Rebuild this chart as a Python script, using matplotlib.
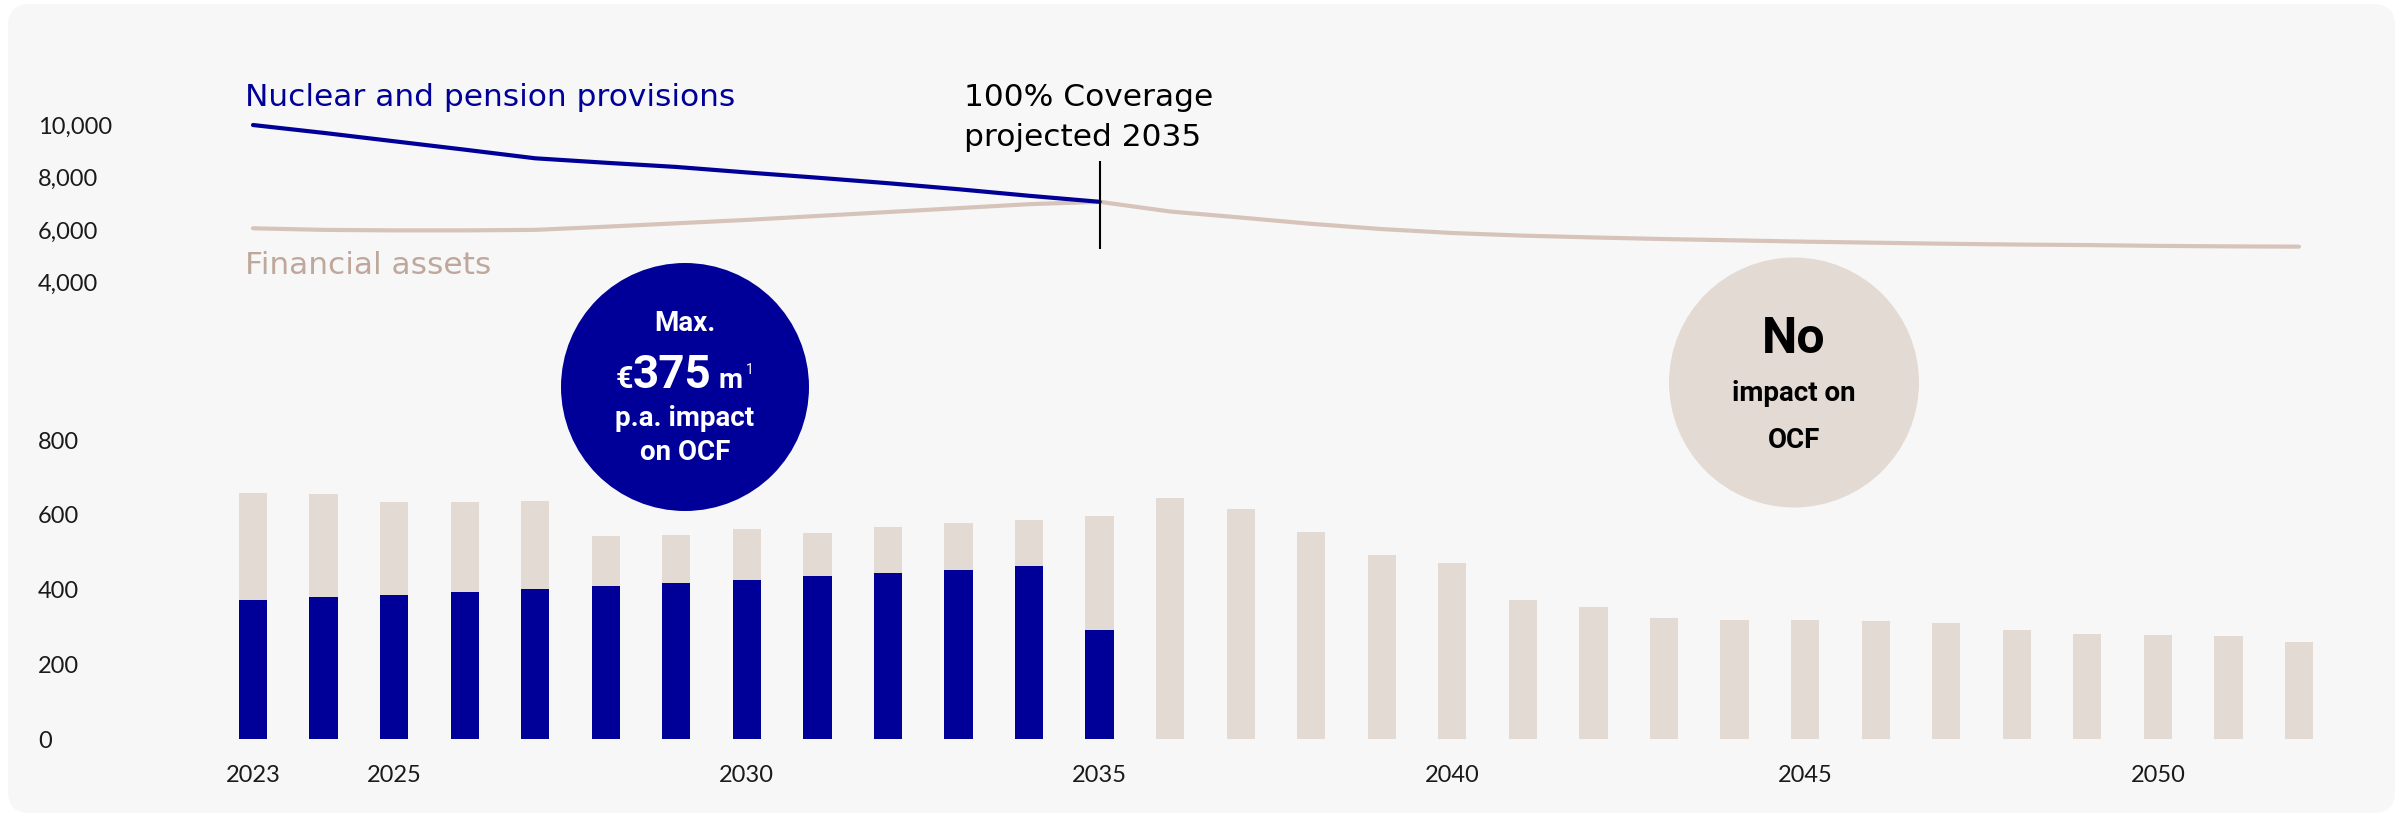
import matplotlib.pyplot as plt
from matplotlib.patches import FancyBboxPatch, Ellipse

W, H = 2405, 817

years = list(range(2023, 2053))
xtick_years = [2023, 2025, 2030, 2035, 2040, 2045, 2050]

# bars: total outflows (beige) and the part hitting OCF (blue), EUR m
total_outflows = [658, 656, 635, 636, 637, 543, 546, 562, 553, 568, 578, 586, 598,
                  646, 617, 555, 494, 471, 371, 353, 324, 320, 319, 317, 311, 291,
                  282, 279, 277, 261]
ocf_impact = [372, 379, 386, 394, 402, 410, 418, 427, 436, 445, 453, 462, 293]
bar_yticks = [0, 200, 400, 600, 800]

# lines, EUR m
provisions = [10000, 9700, 9380, 9060, 8730, 8560, 8400, 8190, 7990, 7780, 7550,
              7300, 7070]
fin_assets = [6060, 6000, 5980, 5980, 6000, 6120, 6250, 6380, 6530, 6680, 6830,
              6980, 7070, 6700, 6470, 6230, 6030, 5880, 5780, 5710, 5650, 5600,
              5550, 5510, 5470, 5440, 5420, 5390, 5370, 5360]
line_yticks = [4000, 6000, 8000, 10000]
coverage_year = 2035
coverage_span = [5260, 8640]

BLUE = '#000099'
BEIGE = '#e3dad4'
BEIGE_LINE = '#d6c4ba'
BEIGE_TEXT = '#bfa89b'
BG = '#f7f7f7'
TICK_FONT = 'Lato'
LABEL_FONT = 'DejaVu Sans'
CIRCLE_FONT = 'Roboto'


def fx(px):
    return px / W


def fy(py):
    return 1 - py / H


fig = plt.figure(figsize=(W / 100, H / 100), dpi=100, facecolor='white')
fig.add_artist(FancyBboxPatch((fx(8), fy(813)), fx(2387), 809 / H,
                              boxstyle='round,pad=0,rounding_size=0.009',
                              transform=fig.transFigure, fc=BG, ec='none',
                              mutation_aspect=W / H, zorder=0))

left, right = 111.9, 2369.5
ax_bar = fig.add_axes([fx(left), fy(739), (right - left) / W, (739 - 421.6) / H])
ax_line = fig.add_axes([fx(left), fy(295.4), (right - left) / W, (295.4 - 111.9) / H])

for ax in (ax_bar, ax_line):
    ax.set_facecolor('none')
    for s in ax.spines.values():
        s.set_visible(False)
    ax.set_xlim(2021, 2053)
    ax.tick_params(length=0, labelsize=17, labelcolor='#1a1a1a')

ax_bar.bar(years, total_outflows, width=0.4, color=BEIGE)
ax_bar.bar(years[:len(ocf_impact)], ocf_impact, width=0.4, color=BLUE)
ax_bar.set_ylim(0, 850)
ax_bar.set_yticks(bar_yticks)
ax_bar.set_yticklabels([f'{v:,}' for v in bar_yticks], family=TICK_FONT)
ax_bar.set_xticks(xtick_years)
ax_bar.set_xticklabels([str(y) for y in xtick_years], family=TICK_FONT)
ax_bar.tick_params(axis='x', pad=19)
ax_bar.tick_params(axis='y', pad=(left - 38) * 0.72)
for lab in ax_bar.get_yticklabels():
    lab.set_ha('left')

ax_line.plot(years, fin_assets, color=BEIGE_LINE, lw=3, solid_capstyle='round')
ax_line.plot(years[:len(provisions)], provisions, color=BLUE, lw=3,
             solid_capstyle='round')
ax_line.vlines(coverage_year, coverage_span[0], coverage_span[1], color='black', lw=1.5)
ax_line.set_ylim(3500, 10500)
ax_line.set_yticks(line_yticks)
ax_line.set_yticklabels([f'{v:,}' for v in line_yticks], family=TICK_FONT)
ax_line.set_xticks([])
ax_line.tick_params(axis='y', pad=(left - 38) * 0.72)
for lab in ax_line.get_yticklabels():
    lab.set_ha('left')

fig.text(fx(245), fy(98), 'Nuclear and pension provisions', color=BLUE,
         family=LABEL_FONT, fontsize=22.5, va='center')
fig.text(fx(245), fy(265), 'Financial assets', color=BEIGE_TEXT,
         family=LABEL_FONT, fontsize=22.5, va='center')
fig.text(fx(964), fy(98), '100% Coverage', color='black',
         family=LABEL_FONT, fontsize=22.5, va='center')
fig.text(fx(964), fy(138), 'projected 2035', color='black',
         family=LABEL_FONT, fontsize=22.5, va='center')

# bubbles
fig.add_artist(Ellipse((fx(685), fy(387)), 248 / W, 248 / H, transform=fig.transFigure,
                       fc=BLUE, ec='none', zorder=5))
fig.add_artist(Ellipse((fx(1794), fy(382.5)), 250 / W, 250 / H, transform=fig.transFigure,
                       fc=BEIGE, ec='none', zorder=5))

ckw = dict(family=CIRCLE_FONT, weight='bold', zorder=6)
fig.text(fx(685), fy(323), 'Max.', color='white', fontsize=20, ha='center', va='center', **ckw)
fig.text(fx(633), fy(388), '€', color='white', fontsize=22, ha='right', va='baseline', **ckw)
fig.text(fx(672), fy(388), '375', color='white', fontsize=33, ha='center', va='baseline', **ckw)
fig.text(fx(719), fy(388), 'm', color='white', fontsize=20, ha='left', va='baseline', **ckw)
fig.text(fx(746), fy(370), '1', color='white', fontsize=10, ha='left', va='center',
         family=CIRCLE_FONT, zorder=6)
fig.text(fx(685), fy(418), 'p.a. impact', color='white', fontsize=20, ha='center', va='center', **ckw)
fig.text(fx(685), fy(452), 'on OCF', color='white', fontsize=20, ha='center', va='center', **ckw)

fig.text(fx(1794), fy(340), 'No', color='black', fontsize=36, ha='center', va='center', **ckw)
fig.text(fx(1794), fy(393), 'impact on', color='black', fontsize=20, ha='center', va='center', **ckw)
fig.text(fx(1794), fy(440), 'OCF', color='black', fontsize=20, ha='center', va='center', **ckw)

fig.savefig('out.png', dpi=100, facecolor='white')
